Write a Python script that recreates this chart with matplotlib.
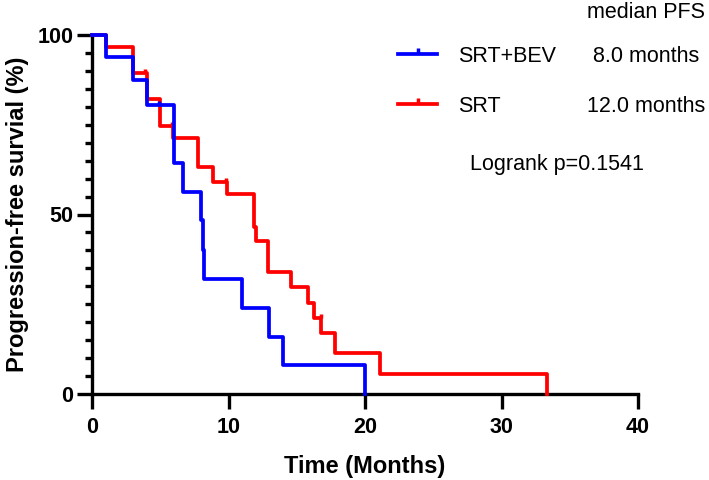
import numpy as np
import matplotlib
matplotlib.use("Agg")
import matplotlib.pyplot as plt

plt.rcParams['font.family'] = ['Liberation Sans', 'DejaVu Sans']

# Kaplan-Meier steps (time in months, PFS in %)
bev_t = [0, 1.0, 3.0, 4.0, 6.0, 6.7, 8.0, 8.1, 8.2, 11.0, 13.0, 14.0, 20.0]
bev_s = [100, 94, 87.5, 80.5, 64.3, 56.3, 48.5, 40, 32, 24, 16, 8, 0]
bev_cens = [0.95, 4.9]

srt_t = [0, 1.0, 3.0, 4.0, 5.0, 5.9, 7.8, 8.9, 9.9, 11.9, 12.05, 12.9, 14.6,
         15.8, 16.3, 16.8, 17.8, 21.1, 33.3]
srt_s = [100, 96.6, 89.5, 82.2, 74.7, 71.3, 63.2, 59, 55.7, 46.5, 42.6, 34,
         29.8, 25.3, 21.2, 17, 11.4, 5.6, 0]
srt_cens = [3.9, 5.85, 9.85, 16.75]

groups = ["SRT+BEV", "SRT"]
medians = ["8.0 months", "12.0 months"]
p_text = "Logrank p=0.1541"


def surv_at(t, s, x):
    i = np.searchsorted(t, x, side='right') - 1
    return np.array(s)[i]


W, H = 709, 480
fig = plt.figure(figsize=(W / 100, H / 100), dpi=100)
ax = fig.add_axes([92 / W, 1 - 394 / H, (638 - 92) / W, (394 - 35) / H])

lw = 2.7
ax.step(bev_t, bev_s, where='post', color='#0000ff', lw=lw, clip_on=False, zorder=4)
ax.step(srt_t, srt_s, where='post', color='#ff0000', lw=lw, clip_on=False, zorder=3)
ax.plot(bev_cens, surv_at(bev_t, bev_s, bev_cens), ls='none', marker=2,
        ms=3, mew=2.5, color='#0000ff', zorder=4)
ax.plot(srt_cens, surv_at(srt_t, srt_s, srt_cens), ls='none', marker=2,
        ms=3, mew=2.5, color='#ff0000', zorder=3)

ax.set_xlim(0, 40)
ax.set_ylim(0, 100)
ax.set_xticks([0, 10, 20, 30, 40])
ax.set_yticks([0, 50, 100])
ax.set_yticks(np.arange(0, 101, 5), minor=True)
for sp in ['top', 'right']:
    ax.spines[sp].set_visible(False)
for sp in ['left', 'bottom']:
    ax.spines[sp].set_linewidth(2.4)
ax.tick_params(which='major', length=10.5, width=2.4, labelsize=15.5)
ax.tick_params(axis='x', pad=6)
ax.tick_params(axis='y', pad=3)
ax.tick_params(which='minor', length=5, width=2.4)
for lab in ax.get_xticklabels() + ax.get_yticklabels():
    lab.set_fontweight('bold')
ax.set_xlabel("Time (Months)", fontsize=17, fontweight='bold', labelpad=12)
ax.set_ylabel("Progression-free survial (%)", fontsize=17, fontweight='bold', labelpad=6)


def fx(px):
    return px / W


def fy(py):
    return 1 - py / H


# legend block
fig.text(fx(705), fy(18), "median PFS", fontsize=15.5, ha='right', va='baseline')
cols = ['#0000ff', '#ff0000']
rows = [62, 112]
for g, m, c, yb in zip(groups, medians, cols, rows):
    yl = yb - 8
    fig.add_artist(plt.Line2D([fx(398), fx(437)], [fy(yl), fy(yl)], color=c, lw=lw))
    fig.add_artist(plt.Line2D([fx(417.5)], [fy(yl)], marker=2, ms=4, mew=2.5, color=c))
    fig.text(fx(458), fy(yb), g, fontsize=15.5, ha='left', va='baseline')
    fig.text(fx(646), fy(yb), m, fontsize=15.5, ha='center', va='baseline')
fig.text(fx(557), fy(170), p_text, fontsize=15.5, ha='center', va='baseline')

fig.savefig("out.png", dpi=100)
